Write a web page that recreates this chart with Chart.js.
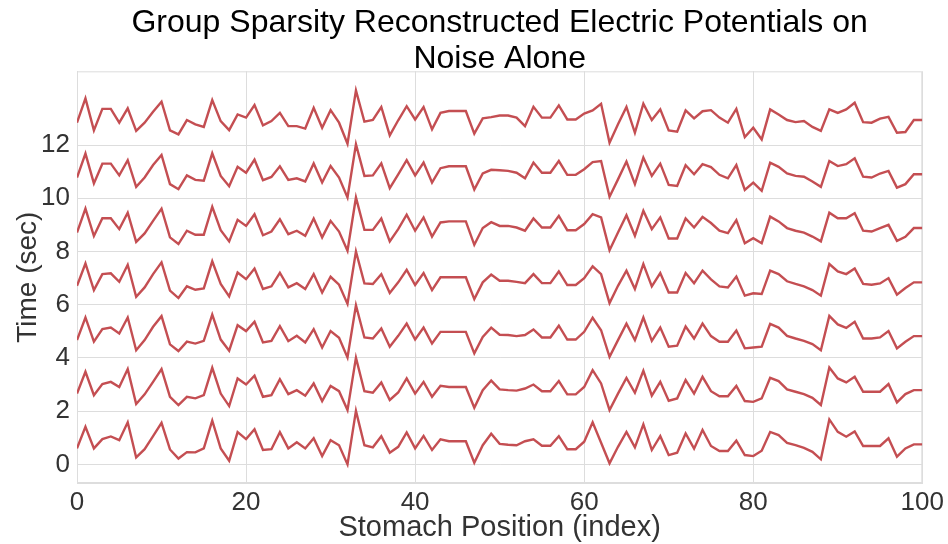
<!DOCTYPE html>
<html>
<head>
<meta charset="utf-8">
<script src="https://cdn.jsdelivr.net/npm/chart.js@4"></script>
<style>
  html, body { margin: 0; padding: 0; background: #fff; }
  canvas { display: block; }
</style>
</head>
<body>
<canvas id="graficoPotenciais" width="948" height="544"></canvas>
<script>
// stomach positions 0..100 (one sample per electrode index)
const positions = Array.from({ length: 101 }, (_, i) => i);

const xTicks = [0, 20, 40, 60, 80, 100];
const yTicks = [0, 2, 4, 6, 8, 10, 12];

// reconstructed potential traces, already stacked at their time offset
const trace0 = [0.60,1.41,0.60,0.95,1.05,0.91,1.58,0.26,0.57,1.06,1.56,0.56,0.22,0.46,0.45,0.60,1.64,0.60,0.14,1.21,
  0.95,1.32,0.54,0.57,1.21,0.60,0.83,0.60,0.98,0.31,0.91,0.72,0.00,2.01,0.72,0.64,1.06,0.44,0.66,1.20,
  0.60,1.07,0.54,0.94,0.87,0.87,0.87,0.06,0.72,1.15,0.77,0.74,0.72,0.87,0.94,0.70,0.70,1.06,0.57,0.57,
  0.85,1.58,0.81,0.04,0.66,1.22,0.64,1.50,0.54,1.06,0.35,0.44,1.16,0.59,1.29,0.69,0.50,0.50,0.89,0.35,
  0.31,0.51,1.22,1.10,0.81,0.72,0.62,0.47,0.19,1.69,1.22,1.04,1.24,0.69,0.69,0.69,0.98,0.29,0.60,0.75,0.75];

const trace2 = [2.66,3.48,2.60,3.02,3.10,2.91,3.58,2.27,2.63,3.10,3.58,2.54,2.23,2.54,2.48,2.60,3.63,2.66,2.19,3.23,
  3.00,3.33,2.54,2.60,3.20,2.64,2.79,2.58,3.04,2.38,2.95,2.75,2.04,4.01,2.75,2.69,3.08,2.42,2.70,3.23,
  2.66,3.10,2.54,2.95,2.91,2.91,2.91,2.13,2.79,3.15,2.82,2.79,2.77,2.85,3.00,2.75,2.75,3.13,2.63,2.63,
  2.91,3.54,3.04,2.04,2.66,3.25,2.69,3.52,2.58,3.10,2.39,2.48,3.17,2.66,3.29,2.75,2.56,2.56,2.95,2.38,
  2.35,2.48,3.25,3.13,2.82,2.73,2.64,2.50,2.23,3.64,3.23,3.08,3.29,2.73,2.73,2.73,3.02,2.33,2.64,2.79,2.79];

const trace4 = [4.67,5.52,4.61,5.08,5.14,4.92,5.52,4.29,4.67,5.17,5.57,4.51,4.26,4.61,4.54,4.64,5.63,4.69,4.27,5.23,
  5.01,5.36,4.58,4.64,5.19,4.63,4.83,4.58,5.08,4.39,5.01,4.76,4.02,5.98,4.77,4.73,5.11,4.42,4.83,5.29,
  4.69,5.14,4.54,4.98,4.98,4.98,4.98,4.17,4.79,5.14,4.87,4.86,4.82,4.86,5.07,4.77,4.77,5.21,4.69,4.69,
  4.98,5.51,5.04,4.04,4.67,5.29,4.67,5.52,4.64,5.14,4.42,4.46,5.18,4.73,5.29,4.82,4.61,4.61,5.03,4.36,
  4.39,4.42,5.28,5.14,4.83,4.73,4.64,4.52,4.29,5.58,5.26,5.13,5.36,4.73,4.73,4.77,5.01,4.36,4.61,4.82,4.82];

const trace6 = [6.71,7.55,6.55,7.15,7.18,6.86,7.50,6.30,6.65,7.15,7.59,6.53,6.25,6.69,6.56,6.61,7.63,6.78,6.31,7.21,
  6.96,7.36,6.59,6.69,7.20,6.65,6.81,6.59,7.15,6.46,7.05,6.75,6.03,8.00,6.80,6.78,7.15,6.44,6.84,7.31,
  6.74,7.19,6.55,7.03,7.03,7.03,7.03,6.21,6.84,7.13,6.90,6.90,6.86,6.81,7.15,6.81,6.81,7.25,6.74,6.74,
  7.00,7.44,7.15,6.06,6.71,7.28,6.59,7.53,6.69,7.19,6.46,6.46,7.19,6.81,7.28,6.95,6.69,6.65,7.06,6.34,
  6.43,6.40,7.28,7.15,6.88,6.78,6.69,6.55,6.34,7.53,7.25,7.15,7.36,6.78,6.75,6.80,7.00,6.38,6.63,6.84,6.84];

const trace8 = [8.71,9.61,8.58,9.25,9.25,8.84,9.46,8.36,8.68,9.15,9.61,8.53,8.28,8.78,8.63,8.63,9.68,8.80,8.38,9.19,
  8.96,9.40,8.61,8.75,9.21,8.65,8.78,8.59,9.24,8.53,9.15,8.75,8.03,10.03,8.81,8.81,9.24,8.38,8.84,9.38,
  8.78,9.28,8.56,9.09,9.13,9.13,9.13,8.25,8.88,9.10,8.96,8.96,8.90,8.78,9.24,8.90,8.90,9.34,8.80,8.80,
  9.03,9.40,9.28,8.05,8.71,9.36,8.59,9.53,8.84,9.28,8.49,8.49,9.24,8.90,9.30,9.07,8.78,8.69,9.18,8.31,
  8.50,8.31,9.31,9.13,8.88,8.78,8.71,8.56,8.38,9.46,9.25,9.25,9.44,8.78,8.75,8.88,9.00,8.40,8.55,8.88,8.88];

const trace10 = [10.78,11.68,10.56,11.30,11.30,10.86,11.43,10.43,10.78,11.25,11.63,10.53,10.34,10.86,10.69,10.66,11.69,10.84,10.45,11.18,
  10.96,11.45,10.68,10.80,11.20,10.69,10.75,10.63,11.31,10.59,11.21,10.78,10.03,12.03,10.84,10.86,11.31,10.38,10.90,11.43,
  10.86,11.34,10.59,11.13,11.20,11.20,11.20,10.33,10.93,11.07,11.05,11.03,10.96,10.75,11.34,10.96,10.96,11.40,10.88,10.88,
  11.09,11.36,11.40,10.06,10.71,11.38,10.53,11.53,10.84,11.30,10.50,10.46,11.24,10.90,11.28,11.17,10.88,10.75,11.25,10.31,
  10.59,10.28,11.34,11.18,10.93,10.84,10.81,10.63,10.43,11.40,11.21,11.28,11.50,10.81,10.78,10.93,11.03,10.40,10.53,10.90,10.90];

const trace12 = [12.84,13.75,12.55,13.36,13.36,12.84,13.38,12.53,12.84,13.25,13.63,12.55,12.40,12.94,12.78,12.68,13.69,12.90,12.56,13.15,
  13.03,13.50,12.74,12.90,13.21,12.71,12.71,12.62,13.40,12.65,13.31,12.84,12.05,14.05,12.88,12.94,13.43,12.36,12.93,13.46,
  12.96,13.43,12.59,13.21,13.28,13.28,13.28,12.43,13.00,13.05,13.11,13.11,13.03,12.71,13.44,13.03,13.03,13.49,12.96,12.96,
  13.18,13.30,13.55,12.09,12.78,13.43,12.46,13.55,12.94,13.34,12.55,12.50,13.30,13.00,13.27,13.31,13.03,12.84,13.36,12.30,
  12.65,12.21,13.34,13.15,12.94,12.86,12.90,12.68,12.53,13.34,13.21,13.34,13.59,12.86,12.84,12.99,13.06,12.46,12.49,12.94,12.94];

const traces = [trace0, trace2, trace4, trace6, trace8, trace10, trace12];

const fonte = "'Liberation Sans', Arial, sans-serif";
const corLinha = "#C44E52";
const corGrade = "#dddddd";

Chart.defaults.font.family = fonte;

// light frame round the plot area, like the seaborn spines
const moldura = {
    id: "moldura",
    beforeDatasetsDraw(chart) {
        const { ctx, chartArea } = chart;
        ctx.save();
        ctx.strokeStyle = corGrade;
        ctx.lineWidth = 1;
        ctx.strokeRect(chartArea.left + 0.5, chartArea.top + 0.5, chartArea.width - 1, chartArea.height - 1);
        ctx.restore();
    },
};

const ctx = document.getElementById("graficoPotenciais").getContext("2d");

new Chart(ctx, {
    type: "line",
    data: {
        datasets: traces.map((trace) => ({
            data: trace.map((v, i) => ({ x: positions[i], y: v })),
            borderColor: corLinha,
            borderWidth: 2.4,
            pointRadius: 0,
            tension: 0,
            fill: false,
        })),
    },
    options: {
        responsive: false,
        animation: false,
        layout: {
            padding: { left: 0, right: 25, top: 0, bottom: 0 },
        },
        plugins: {
            legend: { display: false },
            tooltip: { enabled: false },
            title: {
                display: true,
                fullSize: false,
                text: ["Group Sparsity Reconstructed Electric Potentials on", "Noise Alone"],
                color: "#000",
                font: { size: 32, weight: "normal", lineHeight: 1.13 },
                padding: { top: 5, bottom: -6 },
            },
        },
        scales: {
            x: {
                type: "linear",
                min: 0,
                max: 100,
                afterBuildTicks: (axis) => { axis.ticks = xTicks.map((v) => ({ value: v })); },
                afterFit: (axis) => { axis.height = 61; },
                grid: { color: corGrade, drawTicks: false },
                border: { color: corGrade },
                ticks: { padding: 4, color: "#333", font: { size: 26 } },
                title: {
                    display: true,
                    text: "Stomach Position (index)",
                    color: "#333",
                    font: { size: 29 },
                    padding: { top: 0, bottom: -1 },
                },
            },
            y: {
                min: -0.7,
                max: 14.77,
                afterBuildTicks: (axis) => { axis.ticks = yTicks.map((v) => ({ value: v })); },
                afterFit: (axis) => { axis.width = 77; },
                grid: { color: corGrade, drawTicks: false },
                border: { color: corGrade },
                ticks: { padding: 7, color: "#333", font: { size: 26 } },
                title: {
                    display: true,
                    text: "Time (sec)",
                    color: "#333",
                    font: { size: 28 },
                    padding: { top: 11, bottom: 0 },
                },
            },
        },
    },
    plugins: [moldura],
});
</script>
</body>
</html>
